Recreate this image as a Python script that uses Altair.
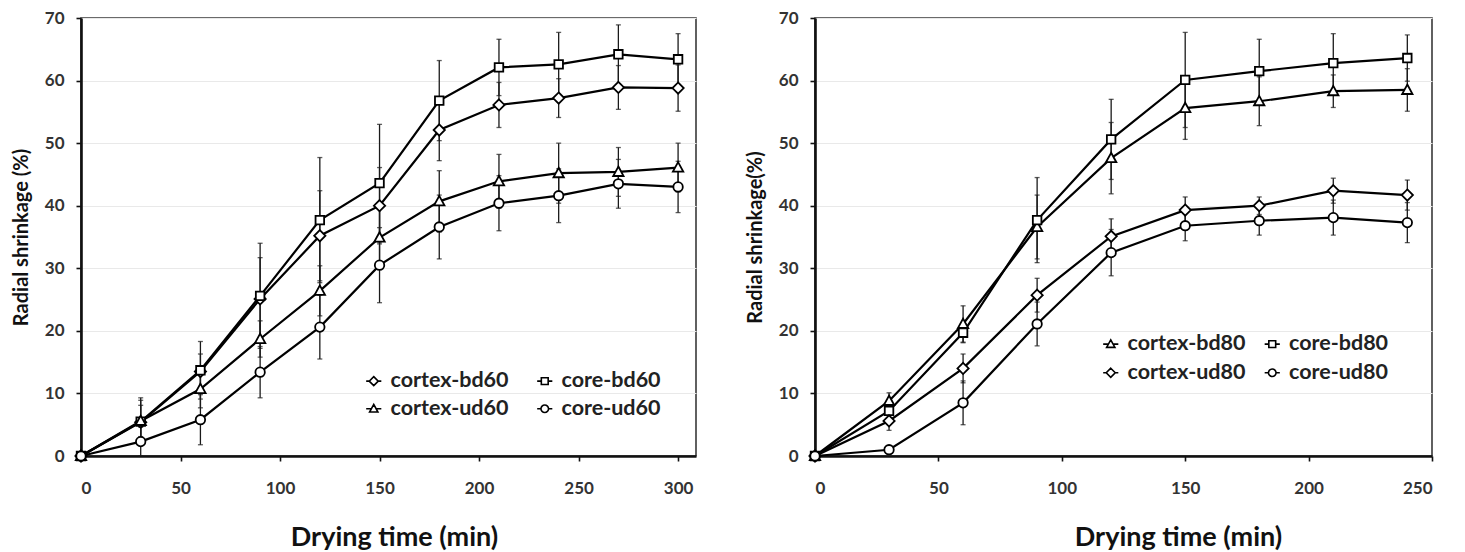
import altair as alt
import pandas as pd

# ---------------- data ----------------
times_60 = [0, 30, 60, 90, 120, 150, 180, 210, 240, 270, 300]
names_60 = ["cortex-bd60", "core-bd60", "cortex-ud60", "core-ud60"]
cortex_bd60 = [0, 5.4, 13.5, 25.1, 35.2, 40.0, 52.1, 56.1, 57.2, 58.9, 58.8]
core_bd60 = [0, 5.5, 13.7, 25.6, 37.7, 43.6, 56.8, 62.1, 62.6, 64.2, 63.4]
cortex_ud60 = [0, 5.6, 10.7, 18.7, 26.4, 34.9, 40.7, 43.9, 45.2, 45.4, 46.1]
core_ud60 = [0, 2.3, 5.8, 13.4, 20.6, 30.5, 36.6, 40.4, 41.6, 43.5, 43.0]
sd_cortex_bd60 = [0, 3.5, 2.8, 6.6, 7.2, 6.1, 4.9, 3.6, 3.1, 3.5, 3.7]
sd_core_bd60 = [0, 3.8, 4.6, 8.4, 10.0, 9.4, 6.4, 4.5, 5.1, 4.7, 4.1]
sd_cortex_ud60 = [0, 2.5, 3.0, 2.9, 4.0, 5.0, 4.9, 4.3, 4.8, 3.9, 3.9]
sd_core_ud60 = [0, 2.3, 4.0, 4.1, 5.1, 6.0, 5.1, 4.4, 4.3, 3.9, 4.1]

times_80 = [0, 30, 60, 90, 120, 150, 180, 210, 240]
names_80 = ["cortex-bd80", "core-bd80", "cortex-ud80", "core-ud80"]
cortex_bd80 = [0, 8.8, 21.1, 36.6, 47.6, 55.6, 56.7, 58.3, 58.5]
core_bd80 = [0, 7.2, 19.7, 37.7, 50.6, 60.1, 61.5, 62.8, 63.6]
cortex_ud80 = [0, 5.6, 14.0, 25.7, 35.1, 39.3, 40.0, 42.4, 41.7]
core_ud80 = [0, 1.0, 8.5, 21.1, 32.5, 36.8, 37.6, 38.1, 37.3]
sd_cortex_bd80 = [0, 1.3, 2.9, 5.1, 5.7, 5.0, 3.9, 2.6, 3.4]
sd_core_bd80 = [0, 1.5, 1.6, 6.8, 6.4, 7.6, 5.1, 4.7, 3.7]
sd_cortex_ud80 = [0, 1.5, 2.3, 2.7, 2.8, 2.1, 1.4, 2.0, 2.4]
sd_core_ud80 = [0, 0.5, 3.5, 3.5, 3.7, 2.4, 2.3, 2.8, 3.2]

x_ticks_60 = [0, 50, 100, 150, 200, 250, 300]
x_ticks_80 = [0, 50, 100, 150, 200, 250]
y_ticks = [0, 10, 20, 30, 40, 50, 60, 70]

# ---------------- marker shapes (data / legend with line) ----------------
SQ = "M-0.95,-0.95H0.95V0.95H-0.95Z"
CI = ("M-1.05,0C-1.05,-0.58 -0.58,-1.05 0,-1.05C0.58,-1.05 1.05,-0.58 1.05,0"
      "C1.05,0.58 0.58,1.05 0,1.05C-0.58,1.05 -1.05,0.58 -1.05,0Z")
DI = "M0,-1.25L1.25,0L0,1.25L-1.25,0Z"
TR = "M0,-1.2L1.15,0.9H-1.15Z"
TAILS = {SQ: " M-2.1,0H-0.95 M0.95,0H2.1",
         CI: " M-2.1,0H-1.05 M1.05,0H2.1",
         DI: " M-2.1,0H-1.25 M1.25,0H2.1",
         TR: " M-2.1,0H-0.66 M0.66,0H2.1"}

FONT = "Lato"


def panel(times, names, vals, sds, shapes, legend_order, xmax, xticks, width,
          ytitle, ytitle_x, xtitle_x, leg_x, leg_y, leg_colpad, leg_rowpad):
    rows = []
    for n, v, s in zip(names, vals, sds):
        for t, vi, si in zip(times, v, s):
            rows.append({"t": t, "series": n, "v": vi, "sd": si})
    df = pd.DataFrame(rows)

    xs = alt.Scale(domain=[0, xmax], nice=False, zero=False)
    ys = alt.Scale(domain=[0, 70], nice=False)

    x_axis = alt.Axis(values=xticks, grid=False, title="Drying time (min)",
                      titleX=xtitle_x, titleY=81, titleAlign="center",
                      titleBaseline="middle", titleFontSize=27,
                      labelPadding=19, format="d")
    y_axis = alt.Axis(values=y_ticks, grid=True, title=ytitle,
                      titleX=ytitle_x, titleY=219, titleAngle=-90,
                      titleAlign="center", titleBaseline="middle",
                      titleFontSize=20, labelPadding=12)

    X = alt.X("t:Q", scale=xs, axis=x_axis, title="Drying time (min)")

    def Y(field):
        return alt.Y(field, scale=ys, axis=y_axis, title=ytitle)

    base = alt.Chart(df).transform_calculate(
        lo="datum.v - datum.sd", hi="datum.v + datum.sd")

    rules = base.mark_rule(color="#1a1a1a", strokeWidth=1.3).encode(
        x=X, y=Y("lo:Q"), y2="hi:Q", detail="series:N")
    cap_lo = base.mark_tick(color="#1a1a1a", size=5, thickness=1.3,
                            orient="horizontal").encode(x=X, y=Y("lo:Q"))
    cap_hi = base.mark_tick(color="#1a1a1a", size=5, thickness=1.3,
                            orient="horizontal").encode(x=X, y=Y("hi:Q"))
    lines = base.mark_line(color="black", strokeWidth=2.2).encode(
        x=X, y=Y("v:Q"), detail="series:N")
    points = base.mark_point(filled=True, fill="white", stroke="black",
                             strokeWidth=1.8, size=81, opacity=1).encode(
        x=X, y=Y("v:Q"),
        shape=alt.Shape("series:N", scale=alt.Scale(domain=names, range=shapes),
                        legend=None),
    )
    legend_layer = base.transform_filter("false").mark_point(
        filled=False, color="black", strokeWidth=1.6, opacity=1).encode(
        x=X, y=Y("v:Q"),
        shape=alt.Shape("series:N",
                        scale=alt.Scale(domain=names,
                                        range=[s + TAILS[s] for s in shapes]),
                        legend=alt.Legend(
                            title=None, orient="none", legendX=leg_x,
                            legendY=leg_y, columns=2, direction="vertical",
                            symbolSize=52, symbolStrokeColor="black",
                            symbolStrokeWidth=1.6, symbolOpacity=1,
                            labelFont=FONT, labelFontSize=21.5,
                            labelFontWeight="bold", labelColor="#222",
                            labelOffset=6, labelLimit=400,
                            columnPadding=leg_colpad, rowPadding=leg_rowpad,
                            padding=0, values=legend_order)),
    )
    return alt.layer(rules, cap_lo, cap_hi, lines, points,
                     legend_layer).resolve_scale(shape="independent").properties(
        width=width, height=438)


left = panel(times_60, names_60,
             [cortex_bd60, core_bd60, cortex_ud60, core_ud60],
             [sd_cortex_bd60, sd_core_bd60, sd_cortex_ud60, sd_core_ud60],
             [DI, SQ, TR, CI],
             ["cortex-bd60", "cortex-ud60", "core-bd60", "core-ud60"],
             309, x_ticks_60, 615,
             "Radial shrinkage (%)", -60, 313, 282, 352, 24, 5)

right = panel(times_80, names_80,
              [cortex_bd80, core_bd80, cortex_ud80, core_ud80],
              [sd_cortex_bd80, sd_core_bd80, sd_cortex_ud80, sd_core_ud80],
              [TR, SQ, DI, CI],
              ["cortex-bd80", "cortex-ud80", "core-bd80", "core-ud80"],
              250, x_ticks_80, 617,
              "Radial shrinkage(%)", -60, 363, 285, 315, 14.5, 6)

chart = alt.hconcat(left, right, spacing=47).resolve_scale(
    x="independent", y="independent", shape="independent"
).resolve_legend(shape="independent").properties(
    padding={"left": 2, "top": 0, "right": 0, "bottom": 0},
    background="white",
).configure_view(
    stroke="#3a3a3a", strokeWidth=1.6
).configure_axis(
    labelFont=FONT, labelFontSize=17, labelFontWeight="bold",
    labelColor="#333", titleFont=FONT, titleFontWeight="bold",
    titleColor="#111", domainColor="#111", domainWidth=2.6,
    tickColor="#111", tickWidth=1.6, tickSize=5,
    gridColor="#e9e9e9", gridWidth=1,
)

chart.save("out.html", embed_options={"renderer": "svg", "actions": False})
